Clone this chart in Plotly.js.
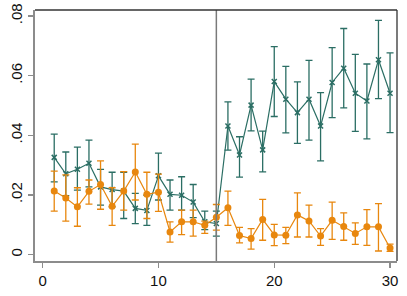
<!DOCTYPE html>
<html>
<head>
<meta charset="utf-8">
<script src="https://cdn.plot.ly/plotly-3.0.1.min.js"></script>
<style>html,body{margin:0;padding:0;background:#fff;}#chart{width:407px;height:296px;}</style>
</head>
<body>
<div id="chart"></div>
<script>
// Periods
var periods = [1,2,3,4,5,6,7,8,9,10,11,12,13,14,15,16,17,18,19,20,21,22,23,24,25,26,27,28,29,30];

// Teal series (x markers): estimate, upper and lower bounds
var tealEst = [0.0326,0.0271,0.0286,0.0306,0.0227,0.0218,0.0213,0.0155,0.0148,0.0264,0.0202,0.0199,0.0176,0.0110,0.0104,
               0.0431,0.0334,0.0501,0.0351,0.0580,0.0521,0.0476,0.0521,0.0431,0.0577,0.0625,0.0541,0.0515,0.0653,0.0541];
var tealHi  = [0.0404,0.0344,0.0360,0.0384,0.0286,0.0276,0.0276,0.0205,0.0199,0.0340,0.0250,0.0261,0.0235,0.0146,0.0146,
               0.0512,0.0395,0.0588,0.0414,0.0697,0.0631,0.0579,0.0651,0.0543,0.0694,0.0758,0.0671,0.0639,0.0785,0.0676];
var tealLo  = [0.0244,0.0198,0.0216,0.0227,0.0166,0.0160,0.0121,0.0104,0.0098,0.0183,0.0149,0.0149,0.0124,0.0084,0.0062,
               0.0350,0.0260,0.0415,0.0277,0.0463,0.0408,0.0373,0.0384,0.0314,0.0459,0.0492,0.0413,0.0388,0.0523,0.0409];

// Orange series (filled circles): estimate, upper and lower bounds
var orangeEst = [0.0213,0.0190,0.0160,0.0212,0.0235,0.0162,0.0213,0.0277,0.0202,0.0209,0.0076,0.0110,0.0110,0.0098,0.0125,
                 0.0157,0.0064,0.0054,0.0118,0.0066,0.0065,0.0133,0.0113,0.0062,0.0115,0.0094,0.0071,0.0093,0.0093,0.0022];
var orangeHi  = [0.0280,0.0267,0.0224,0.0250,0.0314,0.0224,0.0278,0.0370,0.0276,0.0270,0.0110,0.0149,0.0149,0.0112,0.0168,
                 0.0213,0.0091,0.0087,0.0185,0.0101,0.0091,0.0207,0.0166,0.0087,0.0176,0.0140,0.0106,0.0151,0.0171,0.0035];
var orangeLo  = [0.0146,0.0112,0.0095,0.0169,0.0152,0.0098,0.0149,0.0183,0.0121,0.0145,0.0042,0.0067,0.0062,0.0071,0.0082,
                 0.0098,0.0039,0.0018,0.0048,0.0030,0.0037,0.0059,0.0059,0.0031,0.0051,0.0048,0.0034,0.0031,0.0012,0.0011];

var xTicks = [0,10,20,30];
var xTickLabels = ['0','10','20','30'];
var yTicks = [0,0.02,0.04,0.06,0.08];
var yTickLabels = ['0','.02','.04','.06','.08'];
var cutoff = 15;

var teal = '#2b6e64';
var orange = '#e8870e';

function diff(a,b){return a.map(function(v,i){return v-b[i];});}

var traces = [
  {
    x: periods, y: tealEst, type:'scatter', mode:'lines+markers',
    line:{color:teal,width:1.2},
    marker:{symbol:'x-thin-open',size:5,color:teal,line:{color:teal,width:1.5}},
    error_y:{type:'data',symmetric:false,array:diff(tealHi,tealEst),arrayminus:diff(tealEst,tealLo),color:teal,thickness:1.3,width:3.5},
    showlegend:false, hoverinfo:'skip'
  },
  {
    x: periods, y: orangeEst, type:'scatter', mode:'lines+markers',
    line:{color:orange,width:1.2},
    marker:{symbol:'circle',size:7,color:orange},
    error_y:{type:'data',symmetric:false,array:diff(orangeHi,orangeEst),arrayminus:diff(orangeEst,orangeLo),color:orange,thickness:1.3,width:3.5},
    showlegend:false, hoverinfo:'skip'
  }
];

var layout = {
  width:407, height:296,
  margin:{l:35,r:10,t:10,b:35},
  paper_bgcolor:'#fff', plot_bgcolor:'#fff',
  font:{family:'Liberation Sans, Arial, sans-serif',size:15,color:'#111'},
  xaxis:{range:[-0.66,30.6],tickvals:xTicks,ticktext:xTickLabels,showgrid:false,zeroline:false,
         showline:true,linecolor:'#8c8c8c',linewidth:2,ticks:'outside',ticklen:5,tickcolor:'#8c8c8c',tickwidth:1.5,
         tickfont:{size:15,color:'#111'}},
  yaxis:{range:[-0.00215,0.0820],tickvals:yTicks,ticktext:yTickLabels,showgrid:false,zeroline:false,
         showline:true,linecolor:'#8c8c8c',linewidth:2,ticks:'outside',ticklen:5,tickcolor:'#8c8c8c',tickwidth:1.5,
         tickangle:-90,tickfont:{size:15,color:'#111'}},
  shapes:[
    {type:'line',xref:'x',yref:'paper',x0:cutoff,x1:cutoff,y0:0,y1:1,line:{color:'#7a7a7a',width:1.5}},
    {type:'line',xref:'paper',yref:'paper',x0:0,x1:1,y0:1,y1:1,line:{color:'#333',width:1.3}},
    {type:'line',xref:'paper',yref:'paper',x0:1,x1:1,y0:0,y1:1,line:{color:'#333',width:1.3}}
  ]
};

Plotly.newPlot('chart', traces, layout, {displayModeBar:false, staticPlot:true});
</script>
</body>
</html>
